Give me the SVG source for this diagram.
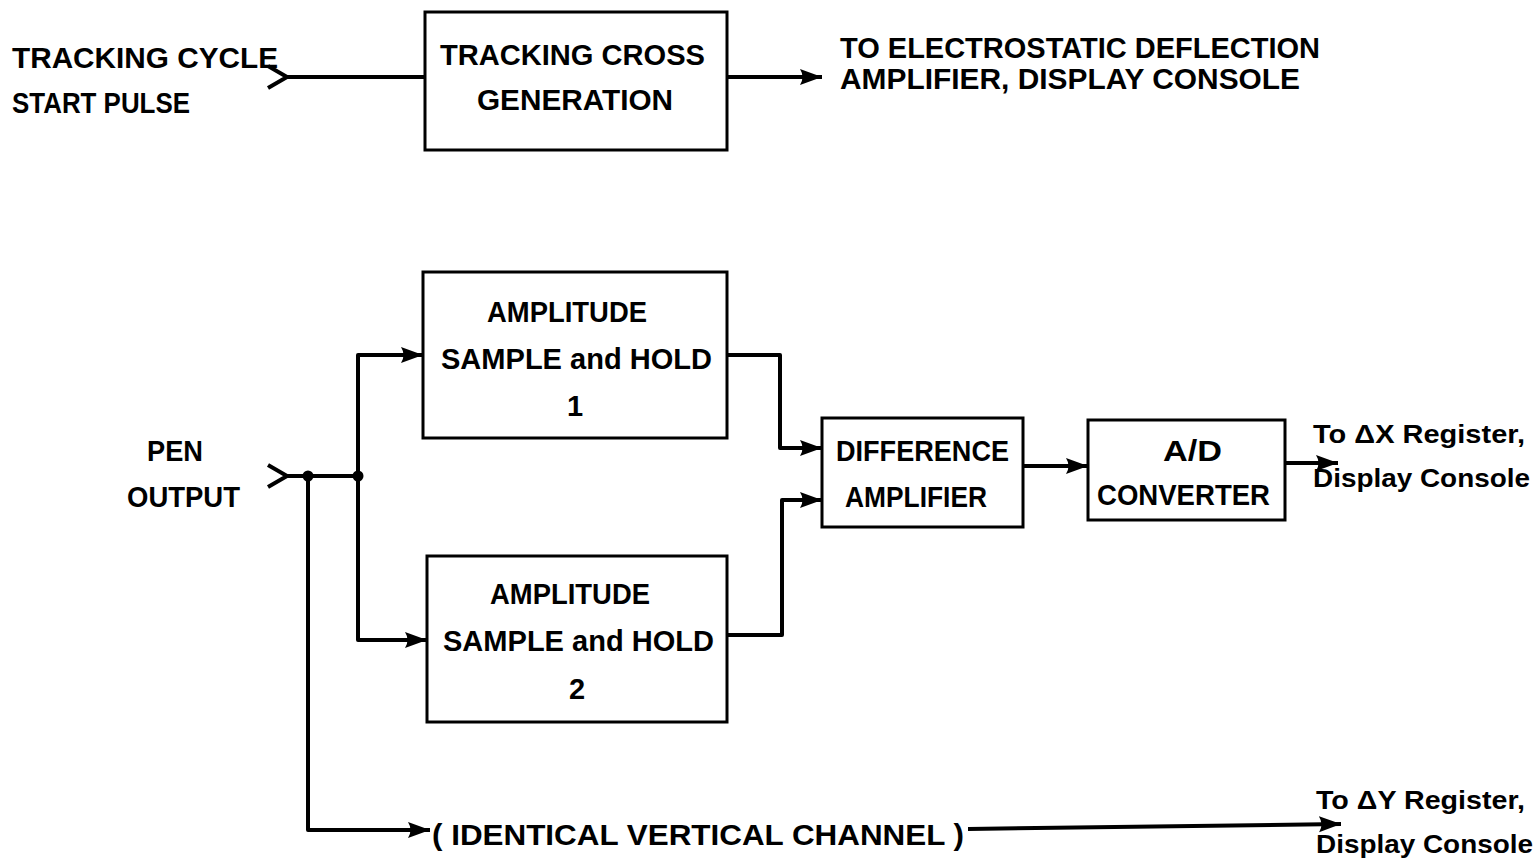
<svg xmlns="http://www.w3.org/2000/svg" width="1540" height="867" viewBox="0 0 1540 867">
<defs>
<style>
.t{font-family:"Liberation Sans",Arial,sans-serif;font-weight:bold;font-size:29px;fill:#000;}
.s{font-family:"Liberation Sans",Arial,sans-serif;font-weight:bold;font-size:25px;fill:#000;}
.box{fill:#fff;stroke:#000;stroke-width:3;}
.w{fill:none;stroke:#000;stroke-width:4;stroke-linejoin:round;}
</style>
<marker id="ah" markerUnits="userSpaceOnUse" markerWidth="24" markerHeight="20" refX="22" refY="10" orient="auto">
<path d="M0,2 L22,10 L0,18 Q5,10 0,2 Z" fill="#000"/>
</marker>
</defs>
<rect width="1540" height="867" fill="#fff"/>

<g id="connectors">
<path class="w" d="M268,66 L287,77 L268,88"/>
<path class="w" d="M287,77 H425"/>
<path class="w" d="M727,77 H822" marker-end="url(#ah)"/>
<path class="w" d="M268,465 L287,476 L268,487"/>
<path class="w" d="M287,476 H358"/>
<path class="w" d="M358,476 V355 H423" marker-end="url(#ah)"/>
<path class="w" d="M358,476 V640 H427" marker-end="url(#ah)"/>
<path class="w" d="M308,476 V830 H430" marker-end="url(#ah)"/>
<circle cx="308" cy="476" r="5.5" fill="#000"/>
<circle cx="358" cy="476" r="5.5" fill="#000"/>
<path class="w" d="M727,355 H780 V448 H822" marker-end="url(#ah)"/>
<path class="w" d="M727,635 H782 V500 H822" marker-end="url(#ah)"/>
<path class="w" d="M1023,466 H1088" marker-end="url(#ah)"/>
<path class="w" d="M1285,463 H1338" marker-end="url(#ah)"/>
<path class="w" d="M968,829 L1341,824" marker-end="url(#ah)"/>
</g>

<g id="in-tracking">
<text class="t" x="12" y="68" textLength="266" lengthAdjust="spacingAndGlyphs">TRACKING CYCLE</text>
<text class="t" x="12" y="113" textLength="178" lengthAdjust="spacingAndGlyphs">START PULSE</text>
</g>

<g id="tracking-cross">
<rect class="box" x="425" y="12" width="302" height="138"/>
<text class="t" x="440" y="65" textLength="265" lengthAdjust="spacingAndGlyphs">TRACKING CROSS</text>
<text class="t" x="477" y="110" textLength="196" lengthAdjust="spacingAndGlyphs">GENERATION</text>
</g>

<g id="out-deflection">
<text class="t" x="840" y="58" textLength="480" lengthAdjust="spacingAndGlyphs">TO ELECTROSTATIC DEFLECTION</text>
<text class="t" x="840" y="89" textLength="460" lengthAdjust="spacingAndGlyphs">AMPLIFIER, DISPLAY CONSOLE</text>
</g>

<g id="pen-output">
<text class="t" x="147" y="461" textLength="56" lengthAdjust="spacingAndGlyphs">PEN</text>
<text class="t" x="127" y="507" textLength="113" lengthAdjust="spacingAndGlyphs">OUTPUT</text>
</g>

<g id="ash1">
<rect class="box" x="423" y="272" width="304" height="166"/>
<text class="t" x="487" y="322" textLength="160" lengthAdjust="spacingAndGlyphs">AMPLITUDE</text>
<text class="t" x="441" y="369" textLength="271" lengthAdjust="spacingAndGlyphs">SAMPLE and HOLD</text>
<text class="t" x="575" y="416" text-anchor="middle">1</text>
</g>

<g id="ash2">
<rect class="box" x="427" y="556" width="300" height="166"/>
<text class="t" x="490" y="604" textLength="160" lengthAdjust="spacingAndGlyphs">AMPLITUDE</text>
<text class="t" x="443" y="651" textLength="271" lengthAdjust="spacingAndGlyphs">SAMPLE and HOLD</text>
<text class="t" x="577" y="699" text-anchor="middle">2</text>
</g>

<g id="diff-amp">
<rect class="box" x="822" y="418" width="201" height="109"/>
<text class="t" x="836" y="461" textLength="173" lengthAdjust="spacingAndGlyphs">DIFFERENCE</text>
<text class="t" x="845" y="507" textLength="142" lengthAdjust="spacingAndGlyphs">AMPLIFIER</text>
</g>

<g id="ad-converter">
<rect class="box" x="1088" y="420" width="197" height="100"/>
<text class="t" x="1163" y="461" textLength="59" lengthAdjust="spacingAndGlyphs">A/D</text>
<text class="t" x="1097" y="505" textLength="173" lengthAdjust="spacingAndGlyphs">CONVERTER</text>
</g>

<g id="out-dx">
<text class="s" x="1313" y="443" textLength="212" lengthAdjust="spacingAndGlyphs">To ΔX Register,</text>
<text class="s" x="1313" y="487" textLength="217" lengthAdjust="spacingAndGlyphs">Display Console</text>
</g>

<g id="vertical-channel">
<text class="t" x="432" y="845" textLength="532" lengthAdjust="spacingAndGlyphs">( IDENTICAL VERTICAL CHANNEL )</text>
</g>

<g id="out-dy">
<text class="s" x="1316" y="809" textLength="209" lengthAdjust="spacingAndGlyphs">To ΔY Register,</text>
<text class="s" x="1316" y="853" textLength="217" lengthAdjust="spacingAndGlyphs">Display Console</text>
</g>
</svg>
